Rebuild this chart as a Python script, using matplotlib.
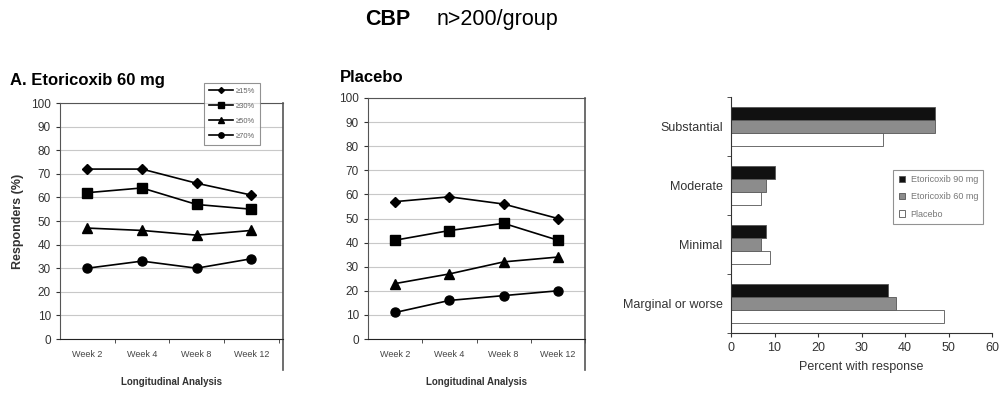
import matplotlib
matplotlib.use("Agg")
import matplotlib.pyplot as plt
import numpy as np

plt.rcParams["font.family"] = ["Liberation Sans", "DejaVu Sans"]

weeks = ["Week 2", "Week 4", "Week 8", "Week 12"]
levels = ["\u226515%", "\u226530%", "\u226550%", "\u226570%"]
markers = ["D", "s", "^", "o"]
msizes = [5, 6.5, 6.5, 6.5]

# responders (%) per level, per week
etori_15 = [72, 72, 66, 61]
etori_30 = [62, 64, 57, 55]
etori_50 = [47, 46, 44, 46]
etori_70 = [30, 33, 30, 34]

plac_15 = [57, 59, 56, 50]
plac_30 = [41, 45, 48, 41]
plac_50 = [23, 27, 32, 34]
plac_70 = [11, 16, 18, 20]

# bar chart
categories = ["Substantial", "Moderate", "Minimal", "Marginal or worse"]
groups = ["Etoricoxib 90 mg", "Etoricoxib 60 mg", "Placebo"]
etori90 = [47, 10, 8, 36]
etori60 = [47, 8, 7, 38]
placebo = [35, 7, 9, 49]
bar_colors = ["#111111", "#8c8c8c", "#ffffff"]

fig = plt.figure(figsize=(10, 4), dpi=100)
fig.text(0.365, 0.952, "CBP", fontsize=15.5, fontweight="bold", ha="left", va="center")
fig.text(0.437, 0.952, "n>200/group", fontsize=15.5, ha="left", va="center")


def line_panel(rect, series, title, title_x, title_y, xmax, legend=False):
    ax = fig.add_axes(rect)
    x = np.arange(len(weeks))
    handles = []
    for vals, m, ms, lab in zip(series, markers, msizes, levels):
        h, = ax.plot(x, vals, color="black", lw=1.2, marker=m, ms=ms, label=lab)
        handles.append(h)
    ax.set_ylim(0, 100)
    ax.set_xlim(-0.5, xmax)
    ax.set_yticks(range(0, 101, 10))
    ax.set_xticks(x)
    ax.set_xticklabels(weeks, fontsize=6.5, color="#444444")
    ax.set_xticks(np.arange(0.5, 3.6, 1), minor=True)
    ax.tick_params(axis="x", which="major", length=0, pad=8)
    ax.tick_params(axis="x", which="minor", length=3, direction="out", color="#333333")
    ax.tick_params(axis="y", labelsize=8.5, labelcolor="#333333", length=3, color="#333333")
    ax.grid(axis="y", color="#c8c8c8", lw=0.8)
    ax.set_axisbelow(True)
    for s in ["top", "left"]:
        ax.spines[s].set_color("#555555")
    ax.spines["bottom"].set_color("#222222")
    ax.spines["right"].set_visible(False)
    ax.plot([1, 1], [-0.13, 1], transform=ax.transAxes, color="#555555", lw=1.2, clip_on=False)
    ax.set_xlabel("Longitudinal Analysis", fontsize=7, fontweight="bold", color="#333333", labelpad=13)
    fig.text(title_x, title_y, title, fontsize=12, fontweight="bold", ha="left", va="center")
    if legend:
        lg = ax.legend(handles=handles, loc="upper left", bbox_to_anchor=(0.63, 1.1),
                       fontsize=5.5, frameon=True, fancybox=False, edgecolor="#777777",
                       handlelength=3.2, markerscale=0.6, labelspacing=1.0, borderpad=0.6,
                       handletextpad=0.3, labelcolor="#666666")
        lg.get_frame().set_linewidth(0.8)
    return ax


ax1 = line_panel([0.060, 0.1525, 0.223, 0.59],
                 [etori_15, etori_30, etori_50, etori_70],
                 "A. Etoricoxib 60 mg", 0.010, 0.80, 3.58, legend=True)
ax1.set_ylabel("Responders (%)", fontsize=9, fontweight="bold", color="#333333", labelpad=5)

ax2 = line_panel([0.368, 0.1525, 0.217, 0.6025],
                 [plac_15, plac_30, plac_50, plac_70],
                 "Placebo", 0.340, 0.807, 3.5)

ax3 = fig.add_axes([0.731, 0.1675, 0.261, 0.59])
n = len(categories)
centers = np.arange(n)[::-1].astype(float)
h = 0.22
for i, (vals, c, lab) in enumerate(zip([etori90, etori60, placebo], bar_colors, groups)):
    ax3.barh(centers + h - i * h, vals, height=h, color=c, edgecolor="#555555", lw=0.6, label=lab)
ax3.set_xlim(0, 60)
ax3.set_ylim(-0.5, n - 0.5)
ax3.set_xticks(range(0, 61, 10))
ax3.set_yticks(centers)
ax3.set_yticklabels(categories, fontsize=9, color="#333333")
ax3.set_yticks(np.arange(-0.5, n, 1), minor=True)
ax3.tick_params(axis="y", which="major", length=0, pad=6)
ax3.tick_params(axis="y", which="minor", length=3, color="#333333")
ax3.tick_params(axis="x", labelsize=9, labelcolor="#333333", length=3, color="#333333")
for s in ["top", "right"]:
    ax3.spines[s].set_visible(False)
ax3.spines["left"].set_color("#333333")
ax3.spines["bottom"].set_color("#333333")
ax3.set_xlabel("Percent with response", fontsize=9, color="#333333", labelpad=5)
lg3 = ax3.legend(loc="upper left", bbox_to_anchor=(0.605, 0.71), fontsize=6.5, frameon=True,
                 fancybox=False, edgecolor="#777777", handlelength=0.7, handleheight=0.7,
                 labelspacing=0.9, borderpad=0.6, handletextpad=0.6, labelcolor="#777777")
lg3.get_frame().set_linewidth(0.8)

fig.savefig("out.png", dpi=100)
